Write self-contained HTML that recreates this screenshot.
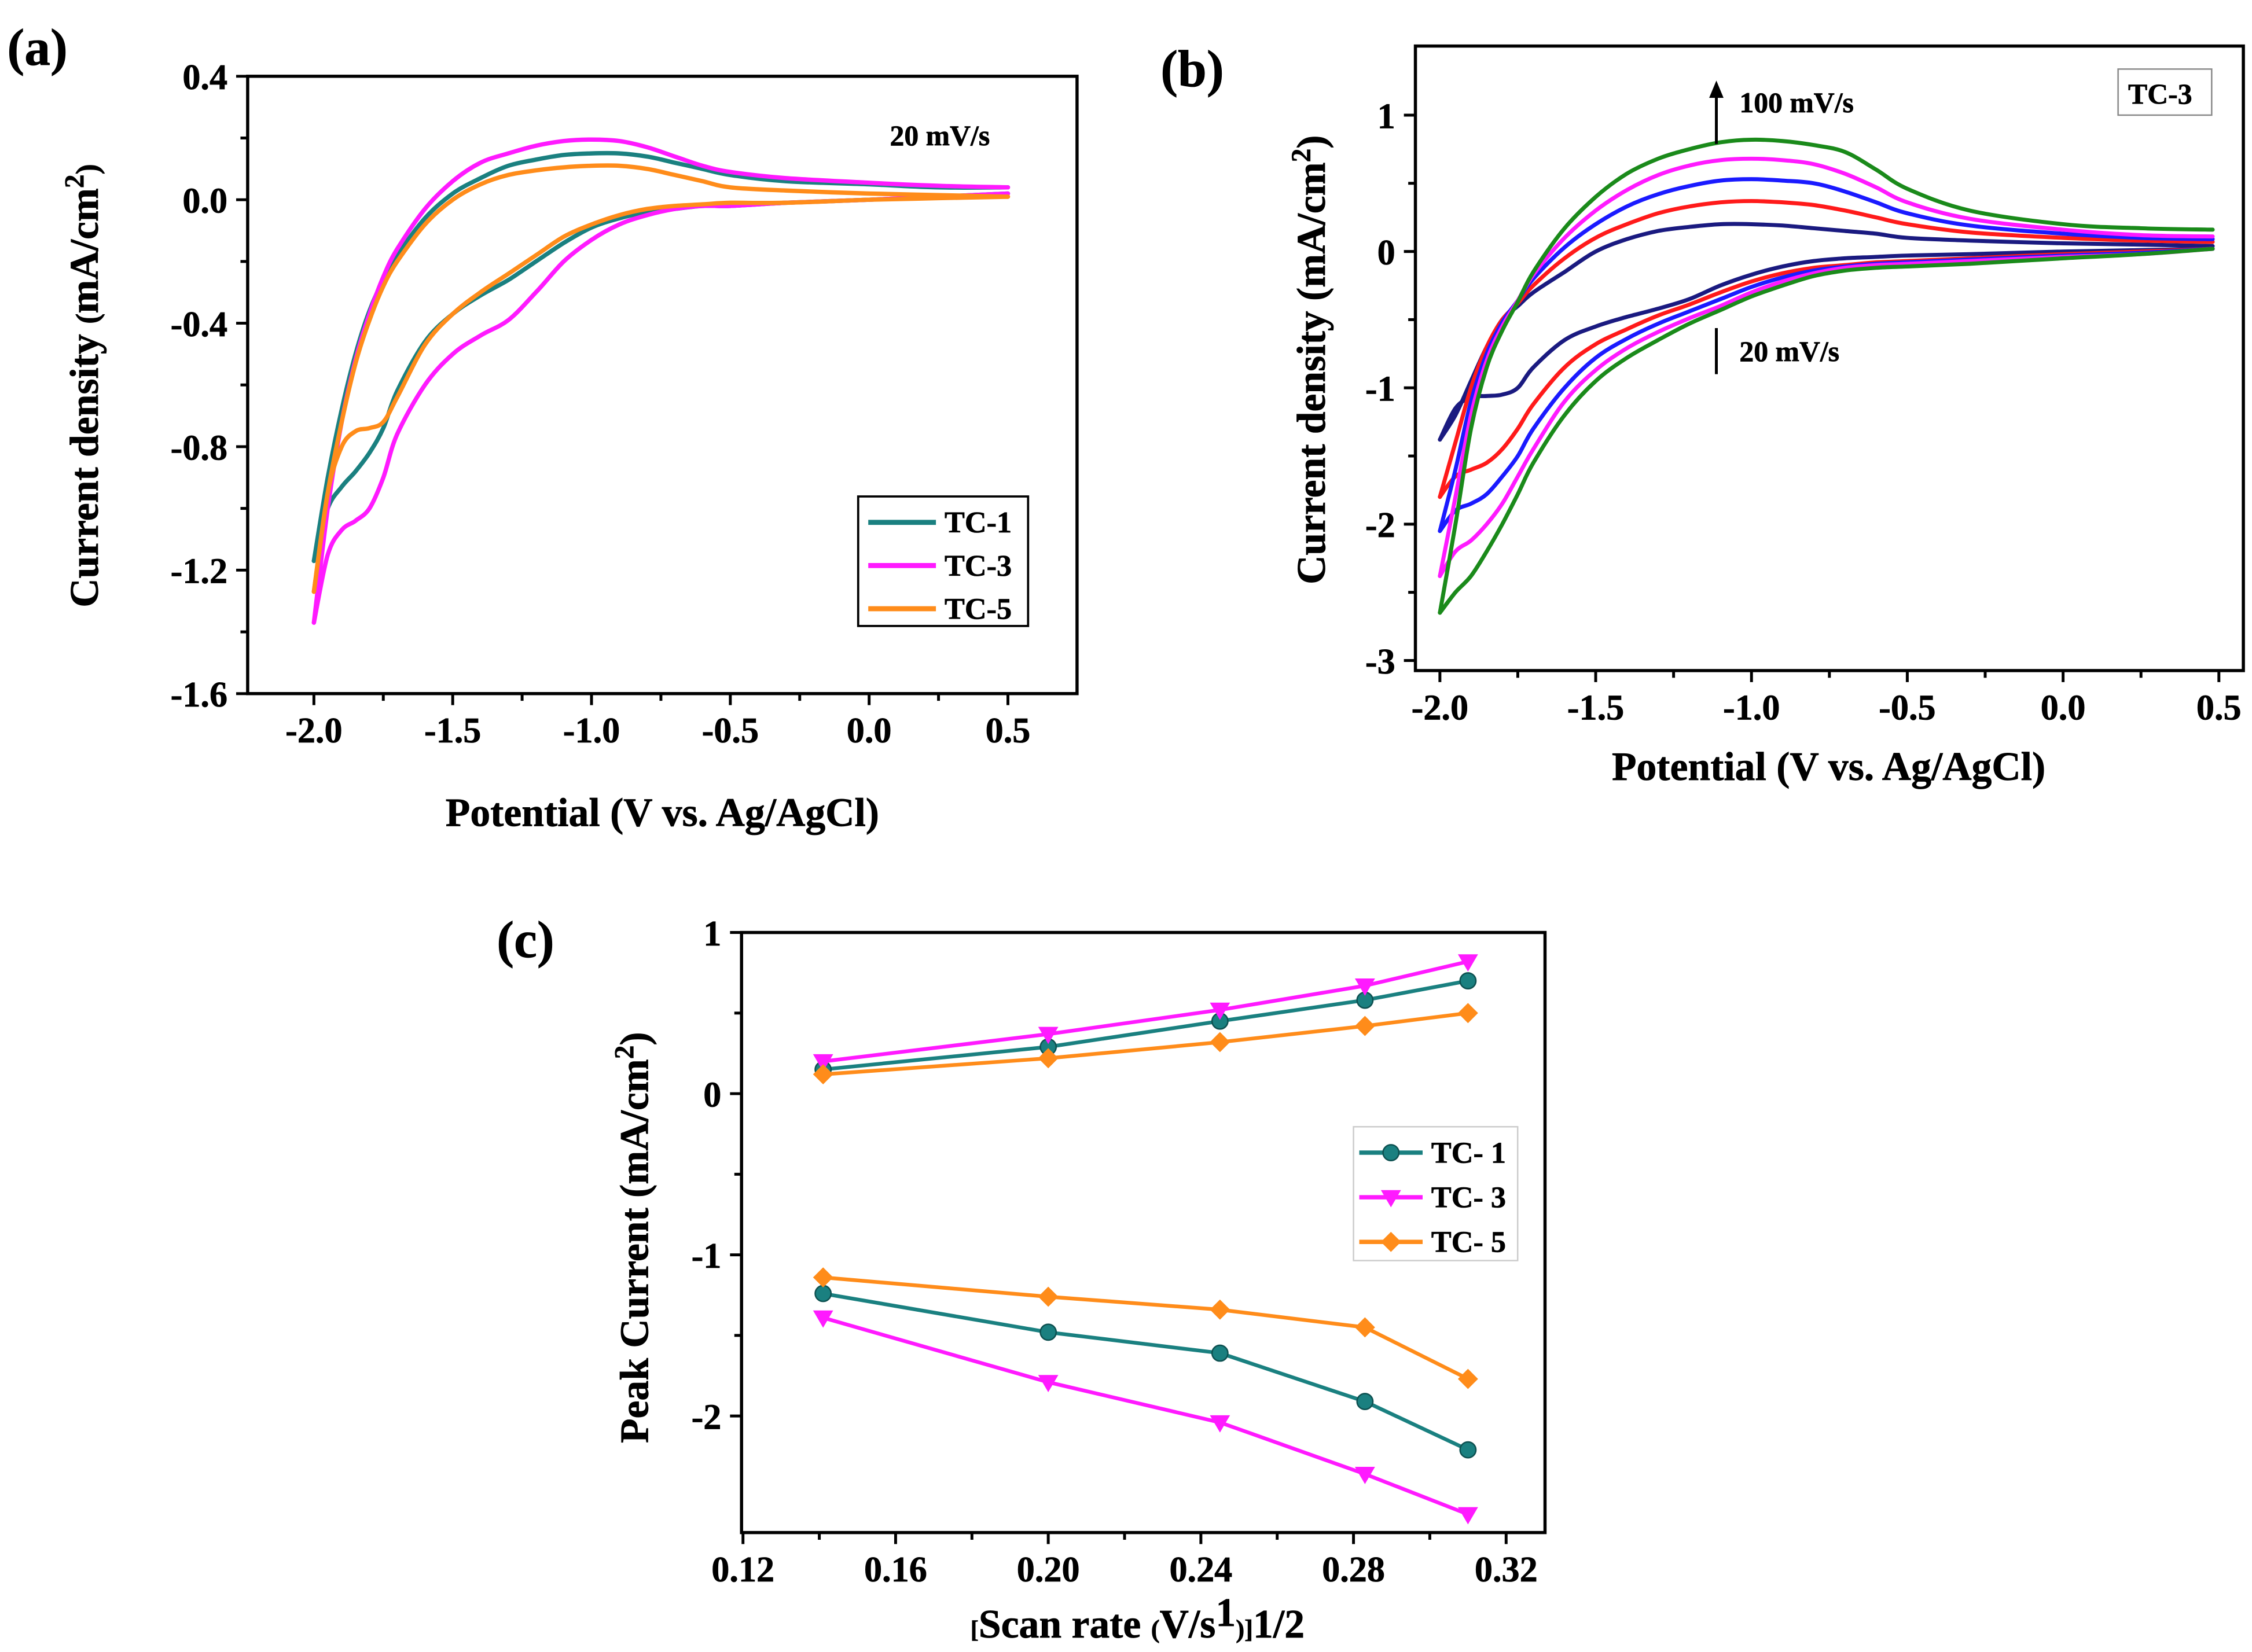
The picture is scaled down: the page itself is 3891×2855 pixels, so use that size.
<!DOCTYPE html>
<html><head><meta charset="utf-8"><style>
html,body{margin:0;padding:0;background:#fff}
svg{display:block}
text{font-family:"Liberation Serif",serif;font-weight:bold;fill:#000;stroke:#000;stroke-width:0.3}
</style></head><body>
<svg id="fig" xmlns="http://www.w3.org/2000/svg" width="3891" height="2855" viewBox="0 0 1564 1148" preserveAspectRatio="none">
<rect width="1564" height="1148" fill="#fff"/>
</svg>
<script>
// ---------- Panel (a) data ----------
const potA = [-2.0,-1.95,-1.9,-1.85,-1.8,-1.75,-1.7,-1.6,-1.5,-1.4,-1.3,-1.2,-1.1,-1.0,-0.9,-0.8,-0.7,-0.6,-0.5,-0.3,0,0.25,0.5];
const seriesNamesA = ["TC-1","TC-3","TC-5"];
const tc1Up = [-1.17,-0.9,-0.68,-0.5,-0.36,-0.26,-0.18,-0.06,0.02,0.07,0.11,0.13,0.145,0.15,0.15,0.14,0.12,0.1,0.08,0.06,0.05,0.04,0.04];
const tc1Down = [-1.17,-1.0,-0.93,-0.88,-0.82,-0.74,-0.62,-0.46,-0.37,-0.31,-0.26,-0.2,-0.14,-0.09,-0.06,-0.04,-0.03,-0.02,-0.02,-0.01,0.0,0.01,0.02];
const tc3Up = [-1.37,-1.0,-0.72,-0.52,-0.37,-0.25,-0.16,-0.03,0.06,0.12,0.15,0.175,0.19,0.195,0.19,0.17,0.14,0.11,0.09,0.07,0.055,0.045,0.04];
const tc3Down = [-1.37,-1.15,-1.07,-1.04,-1.0,-0.9,-0.76,-0.6,-0.5,-0.44,-0.39,-0.3,-0.2,-0.13,-0.08,-0.05,-0.03,-0.02,-0.02,-0.01,0.0,0.01,0.02];
const tc5Up = [-1.27,-0.95,-0.72,-0.53,-0.39,-0.28,-0.2,-0.08,0.0,0.05,0.08,0.095,0.105,0.11,0.11,0.1,0.08,0.06,0.04,0.03,0.02,0.015,0.01];
const tc5Down = [-1.27,-0.95,-0.8,-0.75,-0.74,-0.72,-0.64,-0.47,-0.37,-0.3,-0.24,-0.18,-0.12,-0.08,-0.05,-0.03,-0.02,-0.015,-0.01,-0.01,0,0.005,0.01];
const xTicksA = [-2.0,-1.5,-1.0,-0.5,0.0,0.5];
const yTicksA = [0.4,0.0,-0.4,-0.8,-1.2,-1.6];

// ---------- Panel (b) data ----------
const potB = [-2.0,-1.95,-1.9,-1.85,-1.8,-1.75,-1.7,-1.6,-1.5,-1.4,-1.3,-1.2,-1.1,-1.0,-0.9,-0.8,-0.7,-0.6,-0.5,-0.3,0,0.25,0.48];
const r20Up = [-1.38,-1.2,-0.95,-0.7,-0.5,-0.4,-0.3,-0.15,0.0,0.09,0.15,0.18,0.2,0.2,0.19,0.17,0.15,0.13,0.1,0.08,0.06,0.05,0.04];
const r20Down = [-1.38,-1.15,-1.07,-1.06,-1.05,-1.0,-0.85,-0.65,-0.55,-0.48,-0.42,-0.35,-0.25,-0.17,-0.11,-0.07,-0.05,-0.04,-0.03,-0.02,0,0.01,0.02];
const r40Up = [-1.8,-1.4,-1.0,-0.7,-0.5,-0.38,-0.25,-0.05,0.1,0.2,0.28,0.33,0.36,0.37,0.36,0.34,0.3,0.25,0.2,0.14,0.1,0.08,0.07];
const r40Down = [-1.8,-1.65,-1.6,-1.55,-1.45,-1.3,-1.12,-0.85,-0.68,-0.57,-0.47,-0.39,-0.3,-0.22,-0.16,-0.12,-0.1,-0.08,-0.07,-0.05,-0.02,0.0,0.02];
const r60Up = [-2.05,-1.6,-1.1,-0.75,-0.52,-0.36,-0.2,0.03,0.2,0.33,0.42,0.48,0.52,0.53,0.52,0.5,0.44,0.36,0.28,0.19,0.13,0.1,0.09];
const r60Down = [-2.05,-1.9,-1.85,-1.78,-1.65,-1.5,-1.3,-1.0,-0.78,-0.64,-0.53,-0.44,-0.35,-0.26,-0.19,-0.14,-0.11,-0.09,-0.08,-0.06,-0.03,-0.01,0.02];
const r80Up = [-2.38,-1.8,-1.2,-0.8,-0.55,-0.36,-0.17,0.1,0.3,0.45,0.56,0.63,0.67,0.68,0.67,0.64,0.57,0.47,0.36,0.24,0.16,0.12,0.11];
const r80Down = [-2.38,-2.2,-2.12,-2.0,-1.85,-1.65,-1.45,-1.1,-0.87,-0.71,-0.59,-0.49,-0.4,-0.3,-0.22,-0.16,-0.12,-0.1,-0.09,-0.07,-0.04,-0.02,0.02];
const r100Up = [-2.65,-2.0,-1.3,-0.85,-0.58,-0.37,-0.15,0.17,0.4,0.57,0.68,0.75,0.8,0.82,0.81,0.78,0.73,0.6,0.46,0.3,0.2,0.17,0.16];
const r100Down = [-2.65,-2.5,-2.38,-2.2,-2.0,-1.78,-1.55,-1.2,-0.95,-0.78,-0.65,-0.53,-0.43,-0.33,-0.25,-0.18,-0.14,-0.12,-0.11,-0.09,-0.05,-0.02,0.02];
const xTicksB = [-2.0,-1.5,-1.0,-0.5,0.0,0.5];
const yTicksB = [1,0,-1,-2,-3];

// ---------- Panel (c) data ----------
const scanRoot = [0.141,0.2,0.245,0.283,0.31];
const c1Anodic = [0.15,0.29,0.45,0.58,0.70];
const c1Cathodic = [-1.24,-1.48,-1.61,-1.91,-2.21];
const c3Anodic = [0.2,0.37,0.52,0.67,0.82];
const c3Cathodic = [-1.39,-1.79,-2.04,-2.36,-2.61];
const c5Anodic = [0.12,0.22,0.32,0.42,0.5];
const c5Cathodic = [-1.14,-1.26,-1.34,-1.45,-1.77];
const xTicksC = [0.12,0.16,0.20,0.24,0.28,0.32];
const yTicksC = [1,0,-1,-2];

const NS = "http://www.w3.org/2000/svg";
const svg = document.getElementById('fig');
function mk(tag, attrs, parent, txt){
  const e = document.createElementNS(NS, tag);
  for (const k in attrs) e.setAttribute(k, attrs[k]);
  if (txt !== undefined) e.textContent = txt;
  (parent || svg).appendChild(e);
  return e;
}
function lin(d0,d1,p0,p1){ return v => p0 + (v-d0)*(p1-p0)/(d1-d0); }
function fmt(v,dec){ return v.toFixed(dec); }

function axesFrame(g, fr, xs, ys, xT, yT, xdec, ydec){
  const fA = mk('rect',{x:fr.x0,y:fr.y0,width:fr.x1-fr.x0,height:fr.y1-fr.y0,fill:'none',stroke:'#000','stroke-width':2.2},g);
  
  
  xT.forEach(v=>{
    const x = xs(v);
    const t = mk('line',{x1:x,x2:x,y1:fr.y1,y2:fr.y1+8,stroke:'#000','stroke-width':2},g);
    
    
    const l = mk('text',{x:x,y:fr.y1+34,'text-anchor':'middle','font-size':25},g,fmt(v,xdec));
    
    
  });
  for (let i=0;i<xT.length-1;i++){
    const x = xs((xT[i]+xT[i+1])/2);
    mk('line',{x1:x,x2:x,y1:fr.y1,y2:fr.y1+5,stroke:'#000','stroke-width':2},g);
  }
  yT.forEach(v=>{
    const y = ys(v);
    const t = mk('line',{x1:fr.x0-8,x2:fr.x0,y1:y,y2:y,stroke:'#000','stroke-width':2},g);
    
    
    const l = mk('text',{x:fr.x0-14,y:y+9,'text-anchor':'end','font-size':25},g,fmt(v,ydec));
    
    
  });
  for (let i=0;i<yT.length-1;i++){
    const y = ys((yT[i]+yT[i+1])/2);
    mk('line',{x1:fr.x0-5,x2:fr.x0,y1:y,y2:y,stroke:'#000','stroke-width':2},g);
  }
}
function smoothPath(P){
  let d = 'M'+P[0][0].toFixed(1)+','+P[0][1].toFixed(1);
  for (let i=0;i<P.length-1;i++){
    const p0=P[Math.max(i-1,0)], p1=P[i], p2=P[i+1], p3=P[Math.min(i+2,P.length-1)];
    const c1x=p1[0]+(p2[0]-p0[0])/6, c1y=p1[1]+(p2[1]-p0[1])/6;
    const c2x=p2[0]-(p3[0]-p1[0])/6, c2y=p2[1]-(p3[1]-p1[1])/6;
    d += ' C'+c1x.toFixed(1)+','+c1y.toFixed(1)+' '+c2x.toFixed(1)+','+c2y.toFixed(1)+' '+p2[0].toFixed(1)+','+p2[1].toFixed(1);
  }
  return d;
}
function curve(g, xsArr, ysArr, xs, ys, color, name, w){
  const P = xsArr.map((v,i)=>[xs(v), ys(ysArr[i])]);
  const p = mk('path',{d:smoothPath(P),fill:'none',stroke:color,'stroke-width':w||2.6,'stroke-linejoin':'round','stroke-linecap':'round'},g);
  
  
  return p;
}

// ===== Panel (a) =====
const gA = mk('g',{});


const frA = {x0:172,x1:748,y0:53,y1:482};
const xsA = lin(-2.0,0.5,218,700), ysA = lin(0.4,-1.6,53,482);
axesFrame(gA,frA,xsA,ysA,xTicksA,yTicksA,1,1);
const colA = ['#1a8080','#ff1aff','#ff8c1a'];
[[tc1Up,tc1Down],[tc3Up,tc3Down],[tc5Up,tc5Down]].forEach((pr,i)=>{
  curve(gA,potA,pr[0],xsA,ysA,colA[i],'cv-'+seriesNamesA[i].toLowerCase()+'-anodic',3);
  curve(gA,potA,pr[1],xsA,ysA,colA[i],'cv-'+seriesNamesA[i].toLowerCase()+'-cathodic',3);
});
let t;
t = mk('text',{x:5,y:45,'font-size':36},gA,'(a)');  
t = mk('text',{x:618,y:101,'font-size':20},gA,'20 mV/s');  
t = mk('text',{x:460,y:574,'text-anchor':'middle','font-size':28},gA,'Potential (V vs. Ag/AgCl)');  
t = mk('text',{x:0,y:0,'text-anchor':'middle','font-size':28,transform:'translate(68,268) rotate(-90)'},gA);
t.innerHTML = 'Current density <tspan font-size="22">(</tspan>mA/cm<tspan dy="-10" font-size="19">2</tspan><tspan dy="10" font-size="22">)</tspan>';
 
const lgA = mk('g',{},gA);  
mk('rect',{x:596,y:345,width:118,height:90,fill:'#fff',stroke:'#000','stroke-width':1.5},lgA);
seriesNamesA.forEach((n,i)=>{
  const y = 363 + i*30;
  const e = mk('g',{},lgA);  
  mk('line',{x1:603,x2:650,y1:y,y2:y,stroke:colA[i],'stroke-width':3.5},e);
  mk('text',{x:656,y:y+7,'font-size':21},e,n);
});

// ===== Panel (b) =====
const gB = mk('g',{});


const frB = {x0:983,x1:1558,y0:32,y1:466};
const xsB = lin(-2.0,0.5,1000,1541), ysB = lin(1,-3,80,459);
axesFrame(gB,frB,xsB,ysB,xTicksB,yTicksB,1,0);
const colB = ['#1a1a80','#ff1a1a','#1a1aff','#ff1aff','#1a8a1a'];
const namesB = ['20','40','60','80','100'];
[[r20Up,r20Down],[r40Up,r40Down],[r60Up,r60Down],[r80Up,r80Down],[r100Up,r100Down]].forEach((pr,i)=>{
  curve(gB,potB,pr[0],xsB,ysB,colB[i],'cv-'+namesB[i]+'mvs-anodic',2.8);
  curve(gB,potB,pr[1],xsB,ysB,colB[i],'cv-'+namesB[i]+'mvs-cathodic',2.8);
});
t = mk('text',{x:806,y:60,'font-size':36},gB,'(b)');  
mk('rect',{x:1471,y:48,width:65,height:32,fill:'#fff',stroke:'#888','stroke-width':1},gB);
t = mk('text',{x:1478,y:72,'font-size':20},gB,'TC-3');  
const arr = mk('g',{},gB);  
mk('line',{x1:1192,x2:1192,y1:100,y2:64,stroke:'#000','stroke-width':2},arr);
mk('polygon',{points:'1187,68 1192,56 1197,68',fill:'#000'},arr);
mk('line',{x1:1192,x2:1192,y1:228,y2:260,stroke:'#000','stroke-width':2},arr);
t = mk('text',{x:1208,y:78,'font-size':20},gB,'100 mV/s');  
t = mk('text',{x:1208,y:251,'font-size':20},gB,'20 mV/s');  
t = mk('text',{x:1270,y:542,'text-anchor':'middle','font-size':28},gB,'Potential (V vs. Ag/AgCl)');  
t = mk('text',{x:0,y:0,'text-anchor':'middle','font-size':28,transform:'translate(920,250) rotate(-90)'},gB);
t.innerHTML = 'Current density <tspan>(</tspan>mA/cm<tspan dy="-10" font-size="19">2</tspan><tspan dy="10">)</tspan>';
 

// ===== Panel (c) =====
const gC = mk('g',{});


const frC = {x0:515,x1:1073,y0:648,y1:1065};
const xsC = lin(0.12,0.32,516,1046), ysC = lin(1,-2,648,984);
axesFrame(gC,frC,xsC,ysC,xTicksC,yTicksC,2,0);
const colC = ['#1a8080','#ff1aff','#ff8c1a'];
const namesC = ['TC- 1','TC- 3','TC- 5'];
function marker(g,x,y,kind,color){
  let m;
  if (kind===0){ m = mk('circle',{cx:x,cy:y,r:5.5,fill:color,stroke:'#0d5050','stroke-width':1},g); }
  else if (kind===1){ m = mk('polygon',{points:`${x-7},${y-5} ${x+7},${y-5} ${x},${y+7}`,fill:color},g); }
  else { m = mk('polygon',{points:`${x},${y-7} ${x+7},${y} ${x},${y+7} ${x-7},${y}`,fill:color},g); }
  
  
}
function straight(g, xsArr, ysArr, color, name){
  const pts = xsArr.map((v,i)=>xsC(v).toFixed(1)+','+ysC(ysArr[i]).toFixed(1)).join(' ');
  const p = mk('polyline',{points:pts,fill:'none',stroke:color,'stroke-width':2.6},g);
  
  
}
[[c1Anodic,c1Cathodic],[c3Anodic,c3Cathodic],[c5Anodic,c5Cathodic]].forEach((pr,i)=>{
  pr.forEach((arrY,j)=>{
    straight(gC,scanRoot,arrY,colC[i],'line-tc'+(2*i+1)+(j?'-cathodic':'-anodic'));
    arrY.forEach((v,k)=>marker(gC,xsC(scanRoot[k]),ysC(v),i,colC[i]));
  });
});
t = mk('text',{x:345,y:665,'font-size':36},gC,'(c)');  
t = mk('text',{x:790,y:1138,'text-anchor':'middle','font-size':28},gC);
t.innerHTML = '<tspan font-size="17">[</tspan>Scan rate <tspan font-size="18">(</tspan>V/s<tspan dy="-8">1</tspan><tspan dy="8" font-size="18">)]</tspan>1/2';
 
t = mk('text',{x:0,y:0,'text-anchor':'middle','font-size':28,transform:'translate(450,860) rotate(-90)'},gC);
t.innerHTML = 'Peak Current (mA/cm<tspan dy="-10" font-size="19">2</tspan><tspan dy="10">)</tspan>';
 
const lgC = mk('g',{},gC);  
mk('rect',{x:940,y:783,width:114,height:93,fill:'#fff',stroke:'#ccc','stroke-width':1},lgC);
namesC.forEach((n,i)=>{
  const y = 801 + i*31;
  const e = mk('g',{},lgC);  
  mk('line',{x1:944,x2:988,y1:y,y2:y,stroke:colC[i],'stroke-width':3},e);
  marker(e,966,y,i,colC[i]);
  mk('text',{x:994,y:y+7,'font-size':21},e,n);
});
</script>
</body></html>
